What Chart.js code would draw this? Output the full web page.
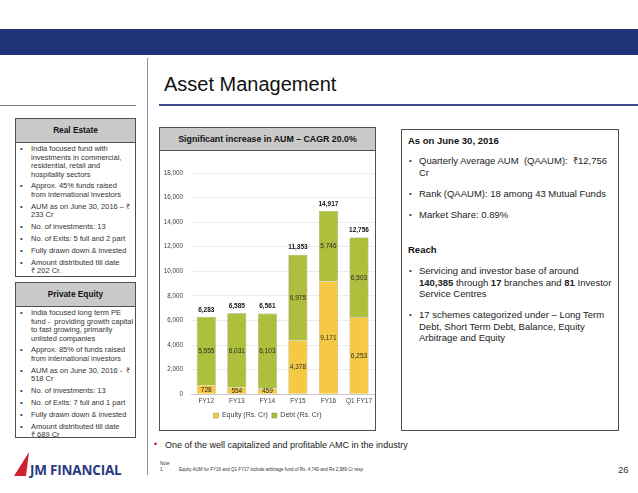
<!DOCTYPE html>
<html>
<head>
<meta charset="utf-8">
<script src="https://cdn.jsdelivr.net/npm/chart.js@4/dist/chart.umd.min.js"></script>
<style>
  html, body { margin:0; padding:0; background:#fff; }
  body { width:638px; height:493px; position:relative; overflow:hidden; font-family:"Liberation Sans", Arial, sans-serif; color:#1a1a1a; }
  .abs { position:absolute; }
  .band { left:0; top:29px; width:638px; height:26px; background:#213479; }
  .title { left:164px; top:73px; font-size:20px; color:#111; white-space:nowrap; }
  .hline { height:1px; }
  .vline { width:1px; }
  .hdr { background:#c9c9c9; border:1px solid #505050; box-sizing:border-box; font-weight:bold; font-size:8.3px; text-align:center; color:#111; }
  .box { border:1px solid #505050; box-sizing:border-box; }
  ul.small { list-style:none; margin:0; padding:0; position:absolute; font-size:7.5px; line-height:8.5px; color:#333; white-space:nowrap; }
  ul.small li { position:relative; padding-left:16px; margin-bottom:3.4px; }
  ul.small li::before { content:"•"; position:absolute; left:5px; top:0; color:#333; font-family:"Liberation Sans", Arial, sans-serif; }
  ul.big { list-style:none; margin:0; padding:0; position:absolute; font-size:9.5px; line-height:11.5px; color:#222; white-space:nowrap; }
  ul.big li { position:relative; padding-left:11px; margin-bottom:9.5px; }
  ul.big li::before { content:"•"; position:absolute; left:1px; top:0; font-size:8px; color:#444; font-family:"Liberation Sans", Arial, sans-serif; }
  .logo { left:30px; top:461px; font-family:"Open Sans", "DejaVu Sans", sans-serif; font-weight:bold; font-size:13.5px; color:#2b3a80; white-space:nowrap; letter-spacing:-0.2px; }
</style>
</head>
<body>
<div class="abs band"></div>

<div class="abs hline" style="left:0;top:105px;width:136px;background:#7a7a7a;"></div>
<div class="abs vline" style="left:147px;top:58px;height:417px;background:#8d93ad;"></div>

<div class="abs title">Asset Management</div>
<div class="abs hline" style="left:159px;top:104px;width:479px;height:1.5px;background:#3b4a8c;"></div>

<!-- Real Estate -->
<div class="abs hdr" style="left:15px;top:118px;width:121px;height:25px;line-height:23px;">Real Estate</div>
<div class="abs box" style="left:15px;top:142px;width:121px;height:135px;"></div>
<ul class="small" style="left:15px;top:145px;"><li>India focused fund with<br>investments in commercial,<br>residential, retail and<br>hospitality sectors</li><li>Approx. 45% funds raised<br>from international investors</li><li>AUM as on June 30, 2016 – ₹<br>233 Cr</li><li>No. of investments: 13</li><li>No. of Exits: 5 full and 2 part</li><li>Fully drawn down &amp; invested</li><li>Amount distributed till date<br>₹ 202 Cr.</li></ul>

<!-- Private Equity -->
<div class="abs hdr" style="left:15px;top:282px;width:121px;height:25px;line-height:23px;">Private Equity</div>
<div class="abs box" style="left:15px;top:306px;width:121px;height:132px;"></div>
<ul class="small" style="left:15px;top:309px;"><li>India focused long term PE<br>fund -&nbsp; providing growth capital<br>to fast growing, primarily<br>unlisted companies</li><li>Approx. 85% of funds raised<br>from international investors</li><li>AUM as on June 30, 2016 -&nbsp; ₹<br>518 Cr</li><li>No. of investments: 13</li><li>No. of Exits: 7 full and 1 part</li><li>Fully drawn down &amp; invested</li><li>Amount distributed till date<br>₹ 689 Cr</li></ul>

<!-- Chart box -->
<div class="abs hdr" style="left:159px;top:127px;width:217px;height:24px;line-height:22px;font-size:8.8px;">Significant increase in AUM – CAGR 20.0%</div>
<div class="abs box" style="left:159px;top:150px;width:217px;height:281px;border-top:none;"></div>
<canvas id="c" class="abs" width="215" height="278" style="left:160px;top:151px;width:215px;height:278px;"></canvas>

<!-- Right box -->
<div class="abs box" style="left:401px;top:129px;width:218px;height:302px;"></div>
<div class="abs" style="left:408px;top:135px;font-size:9.5px;font-weight:bold;color:#111;">As on June 30, 2016</div>
<ul class="big" style="left:408px;top:155px;"><li>Quarterly Average AUM&nbsp; (QAAUM):&nbsp; ₹12,756<br>Cr</li><li>Rank (QAAUM): 18 among 43 Mutual Funds</li><li>Market Share: 0.89%</li></ul>
<div class="abs" style="left:408px;top:244px;font-size:9.5px;font-weight:bold;color:#111;">Reach</div>
<ul class="big" style="left:408px;top:265px;"><li>Servicing and investor base of around<br><b>140,385</b> through <b>17</b> branches and <b>81</b> Investor<br>Service Centres</li><li>17 schemes categorized under – Long Term<br>Debt, Short Term Debt, Balance, Equity<br>Arbitrage and Equity</li></ul>

<!-- Bottom bullet -->
<div class="abs" style="left:154px;top:439px;font-size:9px;color:#c0152f;">•</div>
<div class="abs" style="left:165px;top:440px;font-size:9px;color:#222;white-space:nowrap;">One of the well capitalized and profitable AMC in the industry</div>

<!-- Note -->
<div class="abs" style="left:160px;top:461px;font-size:4.5px;color:#333;">Note</div>
<div class="abs" style="left:160px;top:467px;font-size:4.5px;color:#333;">1.</div>
<div class="abs" style="left:179px;top:467px;font-size:4.5px;color:#333;white-space:nowrap;">Equity AUM for FY16 and Q1 FY17 include arbitrage fund of Rs. 4,740 and Rs 2,989 Cr resp</div>
<div class="abs" style="left:618px;top:464px;font-size:9.5px;color:#333;">26</div>

<!-- Logo -->
<svg class="abs" style="left:12px;top:451px;" width="20" height="26">
  <polygon points="2,25 17,1 14,25" fill="#d2202f"/>
</svg>
<div class="abs logo">JM FINANCIAL</div>

<script>
const categories = ['FY12', 'FY13', 'FY14', 'FY15', 'FY16', 'Q1 FY17'];
const equity = [728, 554, 459, 4378, 9171, 6253];
const debt = [5555, 6031, 6103, 6975, 5746, 6503];
const totals = [6283, 6585, 6561, 11353, 14917, 12756];
const yMax = 18000;
const yStep = 2000;

const fmt = v => v.toLocaleString('en-US');
const FONT = '"Liberation Sans", Arial, sans-serif';

const labelPlugin = {
  id: 'labels',
  afterDatasetsDraw(chart) {
    const ctx = chart.ctx;
    ctx.save();
    ctx.textAlign = 'center';
    ctx.textBaseline = 'middle';
    ctx.fillStyle = '#2a2a2a';
    ctx.font = '6.5px ' + FONT;
    chart.data.datasets.forEach((ds, i) => {
      const meta = chart.getDatasetMeta(i);
      meta.data.forEach((el, j) => {
        const y = (el.y + el.base) / 2;
        ctx.fillText(fmt(ds.data[j]), el.x, y + 0.5);
      });
    });
    const last = chart.getDatasetMeta(chart.data.datasets.length - 1);
    ctx.font = 'bold 6.5px ' + FONT;
    ctx.fillStyle = '#111';
    last.data.forEach((el, j) => {
      ctx.fillText(fmt(totals[j]), el.x, el.y - 7);
    });
    ctx.restore();
  }
};

new Chart(document.getElementById('c'), {
  type: 'bar',
  data: {
    labels: categories,
    datasets: [
      { label: 'Equity (Rs. Cr)', data: equity, backgroundColor: '#f6c945', borderColor: 'rgba(150,130,60,0.7)', borderWidth: 0.6 },
      { label: 'Debt (Rs. Cr)', data: debt, backgroundColor: '#adbf3c', borderColor: 'rgba(110,120,50,0.7)', borderWidth: 0.6 }
    ]
  },
  options: {
    responsive: false,
    animation: false,
    devicePixelRatio: 1,
    layout: { padding: { top: 22, right: 0, left: 0, bottom: 0 } },
    datasets: { bar: { categoryPercentage: 0.8, barPercentage: 0.78 } },
    plugins: {
      legend: {
        position: 'bottom',
        labels: { boxWidth: 5, boxHeight: 5, padding: 4, color: '#404040', font: { size: 7, family: FONT } }
      },
      tooltip: { enabled: false },
      title: { display: false }
    },
    scales: {
      x: {
        stacked: true,
        grid: { display: false, drawTicks: false },
        border: { display: true, color: '#c8c8c8' },
        ticks: { color: '#404040', font: { size: 6.5, family: FONT }, padding: 3, maxRotation: 0, autoSkip: false }
      },
      y: {
        stacked: true,
        min: 0,
        max: yMax,
        afterFit: s => { s.width = 31; },
        grid: { color: '#ececec', drawTicks: false },
        border: { display: false },
        ticks: { stepSize: yStep, color: '#404040', padding: 8, font: { size: 6.3, family: FONT }, callback: v => fmt(v) }
      }
    }
  },
  plugins: [labelPlugin]
});
</script>
</body>
</html>
